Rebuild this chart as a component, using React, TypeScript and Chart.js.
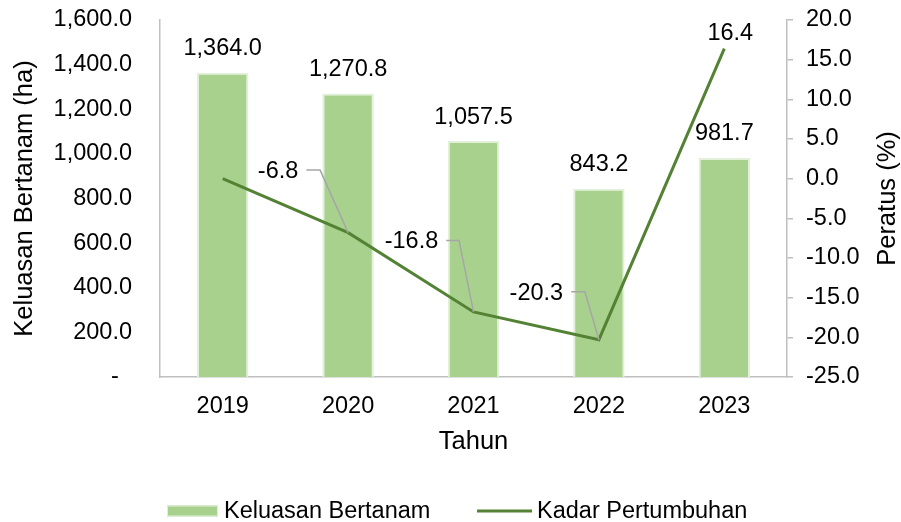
import React, { useEffect, useRef } from "react";
import { Chart, registerables } from "chart.js";

Chart.register(...registerables);

// ---- Data ----
const years = ["2019", "2020", "2021", "2022", "2023"];
const keluasanBertanam = [1364.0, 1270.8, 1057.5, 843.2, 981.7];
const kadarPertumbuhan = [0.0, -6.8, -16.8, -20.3, 16.4];
const seriesNames = ["Keluasan Bertanam", "Kadar Pertumbuhan"];
const axisTitles = { x: "Tahun", left: "Keluasan Bertanam (ha)", right: "Peratus (%)" };

// ---- Style ----
const FAMILY = '"Liberation Sans", Arial, Helvetica, sans-serif';
const TICK_SIZE = 23.5;
const TITLE_SIZE = 25.5;
const BAR_FILL = "#a9d18e";
const BAR_EDGE = "#e2f0d9";
const LINE_COLOR = "#548235";
const AXIS_COLOR = "#bfbfbf";
const LEADER_COLOR = "#a6a6a6";

// placement of growth labels relative to their point (annotation layout, not data)
const growthLabelPlacement: (null | { dx: number; dy: number; knee?: number })[] = [
  null,
  { dx: -70, dy: -61, knee: -28 },
  { dx: -62, dy: -70, knee: -14.5 },
  { dx: -62.5, dy: -46.5, knee: -14 },
  { dx: 6, dy: -15.5 },
];

const fmtArea = (v: number) =>
  v.toLocaleString("en-US", { minimumFractionDigits: 1, maximumFractionDigits: 1 });

const labelsPlugin = {
  id: "valueLabels",
  afterDatasetsDraw(chart: any) {
    const ctx = chart.ctx;
    ctx.save();
    ctx.font = `${TICK_SIZE}px ${FAMILY}`;
    ctx.fillStyle = "#000000";
    ctx.textAlign = "center";
    ctx.textBaseline = "middle";
    const barMeta = chart.getDatasetMeta(0);
    barMeta.data.forEach((el: any, i: number) => {
      ctx.fillText(fmtArea(keluasanBertanam[i]), el.x, el.y - 24);
    });
    const lineMeta = chart.getDatasetMeta(1);
    lineMeta.data.forEach((pt: any, i: number) => {
      const p = growthLabelPlacement[i];
      if (!p) return;
      const text = kadarPertumbuhan[i].toFixed(1);
      const lx = pt.x + p.dx;
      const ly = pt.y + p.dy;
      if (p.knee !== undefined) {
        const w = ctx.measureText(text).width;
        ctx.strokeStyle = LEADER_COLOR;
        ctx.lineWidth = 1.5;
        ctx.beginPath();
        ctx.moveTo(lx + w / 2 + 8, ly - 1.5);
        ctx.lineTo(pt.x + p.knee, ly - 1.5);
        ctx.lineTo(pt.x, pt.y);
        ctx.stroke();
      }
      ctx.fillText(text, lx, ly);
    });
    ctx.restore();
  },
};

const decorPlugin = {
  id: "decor",
  afterDraw(chart: any) {
    const ctx = chart.ctx;
    const area = chart.chartArea;
    ctx.save();
    // right axis title, reading bottom-to-top
    ctx.font = `${TITLE_SIZE}px ${FAMILY}`;
    ctx.fillStyle = "#000000";
    ctx.textAlign = "center";
    ctx.textBaseline = "middle";
    ctx.translate(888, (area.top + area.bottom) / 2);
    ctx.rotate(-Math.PI / 2);
    ctx.fillText(axisTitles.right, 0, 0);
    ctx.restore();

    // legend
    ctx.save();
    const ly = 511;
    ctx.fillStyle = BAR_FILL;
    ctx.fillRect(167, ly - 5.5, 51, 11);
    ctx.strokeStyle = BAR_EDGE;
    ctx.lineWidth = 1;
    ctx.strokeRect(167.5, ly - 5, 50, 10);
    ctx.font = `${TICK_SIZE}px ${FAMILY}`;
    ctx.fillStyle = "#000000";
    ctx.textAlign = "left";
    ctx.textBaseline = "middle";
    ctx.fillText(seriesNames[0], 224, ly + 1);
    ctx.strokeStyle = LINE_COLOR;
    ctx.lineWidth = 3;
    ctx.beginPath();
    ctx.moveTo(477, ly);
    ctx.lineTo(532, ly);
    ctx.stroke();
    ctx.fillText(seriesNames[1], 537, ly + 1);
    ctx.restore();
  },
};

export default function App() {
  const ref = useRef<HTMLCanvasElement | null>(null);

  useEffect(() => {
    document.body.style.margin = "0";
    const canvas = ref.current;
    if (!canvas) return;
    const chart = new Chart(canvas, {
      type: "bar",
      data: {
        labels: years,
        datasets: [
          {
            type: "bar",
            label: seriesNames[0],
            data: keluasanBertanam,
            backgroundColor: BAR_FILL,
            borderColor: BAR_EDGE,
            borderWidth: 2,
            barPercentage: 0.41,
            categoryPercentage: 1,
            yAxisID: "y",
            order: 2,
          },
          {
            type: "line",
            label: seriesNames[1],
            data: kadarPertumbuhan,
            borderColor: LINE_COLOR,
            backgroundColor: LINE_COLOR,
            borderWidth: 3,
            pointRadius: 0,
            tension: 0,
            yAxisID: "y1",
            order: 1,
          },
        ],
      },
      options: {
        responsive: false,
        animation: false,
        devicePixelRatio: 1,
        layout: { padding: { top: 20, left: 0, right: 0, bottom: 0 } },
        plugins: {
          legend: { display: false },
          tooltip: { enabled: false },
        },
        scales: {
          x: {
            type: "category",
            offset: true,
            grid: { display: false, drawTicks: false },
            border: { display: true, color: AXIS_COLOR, width: 1.5 },
            ticks: {
              color: "#000000",
              font: { family: FAMILY, size: TICK_SIZE },
              padding: 15,
              maxRotation: 0,
            },
            title: {
              display: true,
              text: axisTitles.x,
              color: "#000000",
              font: { family: FAMILY, size: TITLE_SIZE },
              padding: { top: 0, bottom: 64.7 },
            },
            afterFit: (s: any) => {
              s.height = 145;
              s.paddingLeft = 0;
              s.paddingRight = 0;
            },
          },
          y: {
            position: "left",
            min: 0,
            max: 1600,
            grid: { display: false, drawTicks: false },
            border: { display: true, color: AXIS_COLOR, width: 1.5 },
            ticks: {
              stepSize: 200,
              color: "#000000",
              font: { family: FAMILY, size: TICK_SIZE },
              padding: 28,
              callback: (v: any) => (Number(v) === 0 ? "-  " : fmtArea(Number(v))),
            },
            title: {
              display: true,
              text: axisTitles.left,
              color: "#000000",
              font: { family: FAMILY, size: TITLE_SIZE },
              padding: { top: 10, bottom: 0 },
            },
            afterFit: (s: any) => {
              s.width = 160;
              s.paddingTop = 0;
              s.paddingBottom = 0;
            },
          },
          y1: {
            position: "right",
            min: -25,
            max: 20,
            grid: {
              display: true,
              drawOnChartArea: false,
              drawTicks: true,
              tickLength: 6,
              color: AXIS_COLOR,
              lineWidth: 1.5,
            },
            border: { display: true, color: AXIS_COLOR, width: 1.5 },
            ticks: {
              stepSize: 5,
              color: "#000000",
              font: { family: FAMILY, size: TICK_SIZE },
              padding: 13,
              callback: (v: any) => Number(v).toFixed(1),
            },
            afterFit: (s: any) => {
              s.width = 114;
              s.paddingTop = 0;
              s.paddingBottom = 0;
            },
          },
        },
      },
      plugins: [labelsPlugin, decorPlugin],
    } as any);
    return () => chart.destroy();
  }, []);

  return (
    <div style={{ width: 901, height: 522, background: "#ffffff" }}>
      <canvas ref={ref} width={901} height={522} style={{ display: "block" }} />
    </div>
  );
}
